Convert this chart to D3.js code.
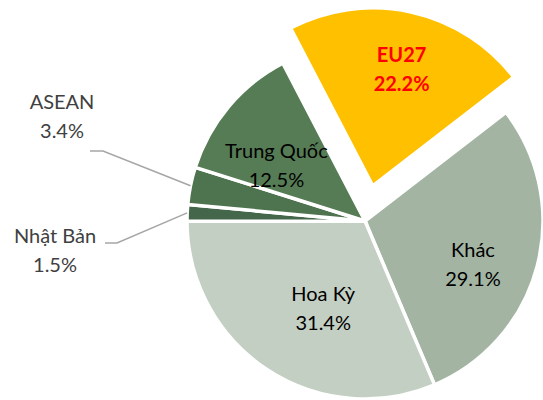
<!DOCTYPE html>
<html>
<head>
<meta charset="utf-8">
<script src="https://cdn.jsdelivr.net/npm/d3@7"></script>
<style>
  html, body { margin: 0; padding: 0; background: #fff; }
  svg { display: block; }
  text { font-family: Lato, "Noto Sans", sans-serif; }
</style>
</head>
<body>
<svg id="chart" width="543" height="400"></svg>
<script>
// markets, clockwise from the exploded slice
var markets = ["EU27", "Khác", "Hoa Kỳ", "Nhật Bản", "ASEAN", "Trung Quốc"];
var shares = [22.2, 29.1, 31.4, 1.5, 3.4, 12.5];

var palette = {
  "EU27": "#FFC000",
  "Khác": "#A3B5A2",
  "Hoa Kỳ": "#C4CFC3",
  "Nhật Bản": "#44664A",
  "ASEAN": "#4E734F",
  "Trung Quốc": "#567C55"
};

var width = 543, height = 400;
var cx = 365, cy = 221, radius = 178;
var explode = { "EU27": 36 };
var startDeg = -27.5;

// label tweaks (excel "best fit" does not sit on the centroid)
var nudge = {
  "EU27": [4, -3],
  "Khác": [-4, 14],
  "Hoa Kỳ": [22, -9],
  "Trung Quốc": [0, 19]
};
// outside labels, relative to the pie centre
var outside = {
  "ASEAN": { text: [-303, -105], elbow: [-262, -70], end: [-275, -70] },
  "Nhật Bản": { text: [-310, 29.5], elbow: [-248, 22], end: [-260, 22] }
};

var data = markets.map(function(m, i) { return { name: m, value: shares[i] }; });

var svg = d3.select("#chart");
var g = svg.append("g").attr("transform", "translate(" + cx + "," + cy + ")");

var start = startDeg * Math.PI / 180;
var pie = d3.pie()
    .sort(null)
    .startAngle(start)
    .endAngle(start + 2 * Math.PI)
    .value(function(d) { return d.value; });

var arc = d3.arc().innerRadius(0).outerRadius(radius);
var edgeArc = d3.arc().innerRadius(radius).outerRadius(radius);
var fmt = d3.format(".1f");

var arcs = pie(data);

function mid(d) { return (d.startAngle + d.endAngle) / 2; }
function shift(d) {
  var o = explode[d.data.name] || 0, a = mid(d);
  return [Math.sin(a) * o, -Math.cos(a) * o];
}

var slices = g.selectAll("g.slice")
    .data(arcs)
  .enter().append("g")
    .attr("class", "slice")
    .attr("transform", function(d) { var s = shift(d); return "translate(" + s[0] + "," + s[1] + ")"; });

slices.append("path")
    .attr("d", arc)
    .attr("fill", function(d) { return palette[d.data.name]; })
    .attr("stroke", "#fff")
    .attr("stroke-width", 3.5)
    .attr("stroke-linejoin", "miter");

// inside labels
var labelR = radius * 0.65;
var inside = slices.filter(function(d) { return !outside[d.data.name]; });

inside.each(function(d) {
  var a = mid(d), n = nudge[d.data.name] || [0, 0];
  var x = Math.sin(a) * labelR + n[0];
  var y = -Math.cos(a) * labelR + n[1];
  var isEU = d.data.name === "EU27";
  var t = d3.select(this).append("text")
      .attr("text-anchor", "middle")
      .attr("font-size", 20)
      .attr("font-weight", isEU ? "bold" : "normal")
      .attr("fill", isEU ? "#FF0000" : "#000");
  t.append("tspan").attr("x", x).attr("y", y - 14.5).attr("dy", "0.35em").text(d.data.name);
  t.append("tspan").attr("x", x).attr("y", y + 14.5).attr("dy", "0.35em").text(fmt(d.data.value) + "%");
});

// outside labels with leader lines
arcs.filter(function(d) { return outside[d.data.name]; }).forEach(function(d) {
  var o = outside[d.data.name];
  var p = edgeArc.centroid(d);
  g.append("polyline")
      .attr("points", [p, o.elbow, o.end].map(function(q) { return q.join(","); }).join(" "))
      .attr("fill", "none")
      .attr("stroke", "#A6A6A6")
      .attr("stroke-width", 1.5);
  var t = g.append("text")
      .attr("text-anchor", "middle")
      .attr("font-size", 20)
      .attr("fill", "#404040");
  t.append("tspan").attr("x", o.text[0]).attr("y", o.text[1] - 14.5).attr("dy", "0.35em").text(d.data.name);
  t.append("tspan").attr("x", o.text[0]).attr("y", o.text[1] + 14.5).attr("dy", "0.35em").text(fmt(d.data.value) + "%");
});
</script>
</body>
</html>
